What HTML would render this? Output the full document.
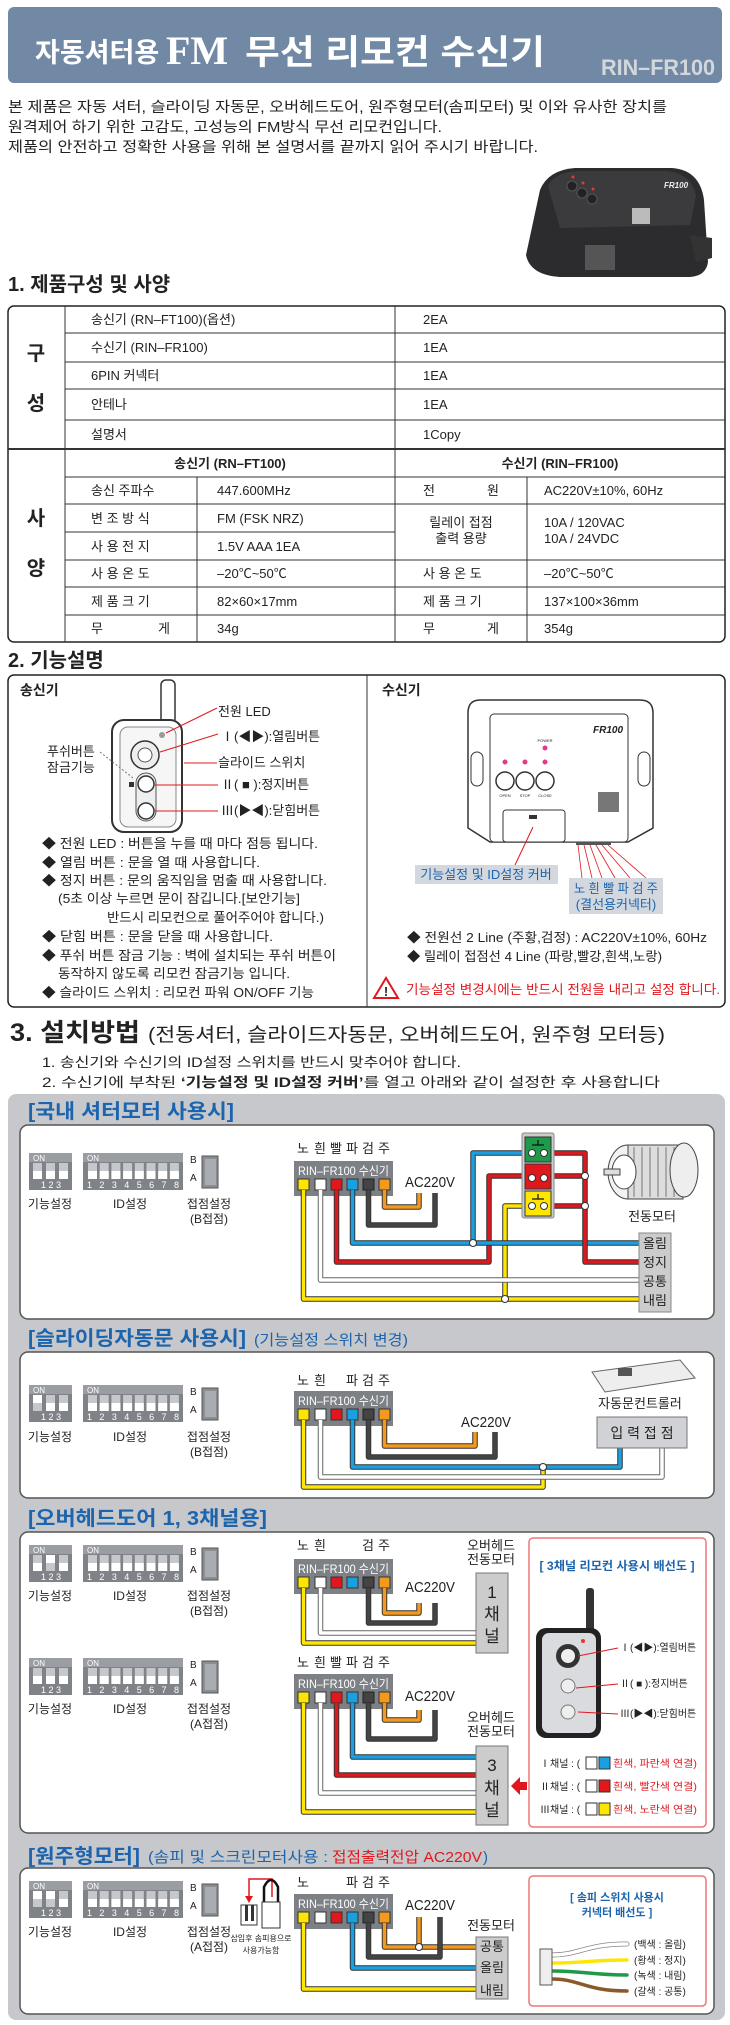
<!DOCTYPE html>
<html><head><meta charset="utf-8">
<style>
html,body{margin:0;padding:0;background:#fff}
svg{display:block}
text{font-family:"Liberation Sans","Noto Sans CJK KR",sans-serif;fill:#222}
.o{fill:none;stroke:#333;stroke-width:5.5;stroke-linejoin:round}
.ow{fill:none;stroke:#666;stroke-width:5.5;stroke-linejoin:round}
.w{fill:none;stroke-width:3.5;stroke-linejoin:round}
.t13{font-size:13px}
.b{font-weight:bold}
.blue{fill:#1c64ad}
.red{fill:#e0181e}
.c{text-anchor:middle}
.ln{stroke:#333;stroke-width:1}
.wt{fill:#fff}
</style></head><body>
<svg width="730" height="2025" viewBox="0 0 730 2025" xmlns="http://www.w3.org/2000/svg">
<defs>
<symbol id="dip3" viewBox="0 0 43 37" width="43" height="37">
<rect x="0" y="0" width="43" height="37" fill="#7f8388"/><rect x="0" y="0" width="43" height="9" fill="#9a9da1"/>
<rect x="4" y="10" width="9" height="16" fill="#c4c7cb"/><rect x="17" y="10" width="9" height="16" fill="#c4c7cb"/><rect x="30" y="10" width="9" height="16" fill="#c4c7cb"/>
</symbol>
<symbol id="dip8" viewBox="0 0 100 37" width="100" height="37">
<rect x="0" y="0" width="100" height="37" fill="#7f8388"/><rect x="0" y="0" width="100" height="9" fill="#9a9da1"/>
<g fill="#c4c7cb"><rect x="5" y="10" width="9" height="16"/><rect x="16.7" y="10" width="9" height="16"/><rect x="28.4" y="10" width="9" height="16"/><rect x="40.1" y="10" width="9" height="16"/><rect x="51.8" y="10" width="9" height="16"/><rect x="63.5" y="10" width="9" height="16"/><rect x="75.2" y="10" width="9" height="16"/><rect x="86.9" y="10" width="9" height="16"/></g>
<g fill="#fff"><rect x="5" y="18" width="9" height="8"/><rect x="16.7" y="18" width="9" height="8"/><rect x="28.4" y="18" width="9" height="8"/><rect x="40.1" y="18" width="9" height="8"/><rect x="51.8" y="18" width="9" height="8"/><rect x="63.5" y="18" width="9" height="8"/><rect x="75.2" y="18" width="9" height="8"/><rect x="86.9" y="18" width="9" height="8"/></g>
</symbol>
<symbol id="sw" viewBox="0 0 22 36" width="22" height="36">
<rect x="4" y="2" width="16" height="32" fill="#8a8d91" stroke="#555"/><rect x="7" y="5" width="11" height="26" fill="#a9acb0"/>
</symbol>
<symbol id="bar" viewBox="0 0 99 35" width="99" height="35">
<rect x="0" y="0" width="99" height="35" fill="#7d8085"/>
<rect x="4" y="18" width="11" height="11" fill="#ffe600" stroke="#333"/>
<rect x="21" y="18" width="11" height="11" fill="#fff" stroke="#333"/>
<rect x="37" y="18" width="11" height="11" fill="#e0181e" stroke="#333"/>
<rect x="53" y="18" width="11" height="11" fill="#1aa0e0" stroke="#333"/>
<rect x="69" y="18" width="11" height="11" fill="#444" stroke="#222"/>
<rect x="85" y="18" width="11" height="11" fill="#f39a1e" stroke="#333"/>
</symbol>
</defs>

<!-- header -->
<rect x="8" y="7" width="714" height="76" rx="6" fill="#7189a5"/>
<text x="35" y="62" font-size="27" class="wt b" style="fill:#fff">자동셔터용</text>
<text x="166" y="64" font-size="40" font-weight="bold" style="fill:#fff;font-family:'Liberation Serif',serif">FM</text>
<text x="245" y="64" font-size="34" font-weight="bold" style="fill:#fff" textLength="300" lengthAdjust="spacingAndGlyphs">무선 리모컨 수신기</text>
<text x="601" y="75" font-size="22" font-weight="bold" style="fill:#d3d7dc" textLength="114" lengthAdjust="spacingAndGlyphs">RIN–FR100</text>

<text x="8" y="112" font-size="14.5" textLength="659" lengthAdjust="spacingAndGlyphs">본 제품은 자동 셔터, 슬라이딩 자동문, 오버헤드도어, 원주형모터(솜피모터) 및 이와 유사한 장치를</text>
<text x="8" y="132" font-size="14.5" textLength="434" lengthAdjust="spacingAndGlyphs">원격제어 하기 위한 고감도, 고성능의 FM방식 무선 리모컨입니다.</text>
<text x="8" y="152" font-size="14.5" textLength="530" lengthAdjust="spacingAndGlyphs">제품의 안전하고 정확한 사용을 위해 본 설명서를 끝까지 읽어 주시기 바랍니다.</text>

<!-- product image -->
<path d="M540 190 Q548 170 575 168 L672 168 Q700 170 704 200 L708 262 Q706 276 690 277 L560 277 Q530 275 526 255 Z" fill="#2c2c2e"/>
<path d="M548 186 Q555 172 578 171 L668 171 Q692 174 696 196 L690 225 L560 228 Z" fill="#3b3b3e"/>
<circle cx="572" cy="186" r="5" fill="#222" stroke="#555"/><circle cx="582" cy="193" r="5" fill="#222" stroke="#555"/><circle cx="592" cy="199" r="5" fill="#222" stroke="#555"/>
<circle cx="573" cy="177" r="1.5" fill="#e33"/><circle cx="583" cy="183" r="1.5" fill="#e33"/><circle cx="593" cy="189" r="1.5" fill="#e33"/>
<text x="664" y="188" font-size="8" font-style="italic" font-weight="bold" style="fill:#eee">FR100</text>
<rect x="632" y="208" width="18" height="16" fill="#bbb"/>
<rect x="585" y="245" width="30" height="25" fill="#555"/>
<path d="M690 235 L712 238 L712 258 L696 262 Z" fill="#333"/>

<text x="8" y="291" font-size="20" class="b">1. 제품구성 및 사양</text>

<!-- table -->
<rect x="8" y="306" width="717" height="336" rx="6" fill="none" stroke="#222" stroke-width="1.5"/>
<g class="ln">
<line x1="65" y1="306" x2="65" y2="642"/>
<line x1="395" y1="306" x2="395" y2="642"/>
<line x1="65" y1="333" x2="725" y2="333"/><line x1="65" y1="362" x2="725" y2="362"/><line x1="65" y1="389" x2="725" y2="389"/><line x1="65" y1="420" x2="725" y2="420"/>
<line x1="8" y1="449" x2="725" y2="449" stroke-width="2"/>
<line x1="65" y1="477" x2="725" y2="477"/>
<line x1="197" y1="477" x2="197" y2="642"/><line x1="527" y1="477" x2="527" y2="642"/>
<line x1="65" y1="504" x2="725" y2="504"/><line x1="65" y1="532" x2="395" y2="532"/>
<line x1="65" y1="560" x2="725" y2="560"/><line x1="65" y1="587" x2="725" y2="587"/><line x1="65" y1="615" x2="725" y2="615"/>
</g>
<g font-size="13">
<text x="36" y="360" font-size="20" class="c b">구</text><text x="36" y="410" font-size="20" class="c b">성</text>
<text x="36" y="525" font-size="20" class="c b">사</text><text x="36" y="575" font-size="20" class="c b">양</text>
<text x="91" y="324">송신기 (RN–FT100)(옵션)</text><text x="423" y="324">2EA</text>
<text x="91" y="352">수신기 (RIN–FR100)</text><text x="423" y="352">1EA</text>
<text x="91" y="380">6PIN 커넥터</text><text x="423" y="380">1EA</text>
<text x="91" y="409">안테나</text><text x="423" y="409">1EA</text>
<text x="91" y="439">설명서</text><text x="423" y="439">1Copy</text>
<text x="230" y="468" class="c b">송신기 (RN–FT100)</text><text x="560" y="468" class="c b">수신기 (RIN–FR100)</text>
<text x="91" y="495">송신 주파수</text><text x="217" y="495">447.600MHz</text>
<text x="91" y="523">변 조 방 식</text><text x="217" y="523">FM (FSK NRZ)</text>
<text x="91" y="551">사 용 전 지</text><text x="217" y="551">1.5V AAA 1EA</text>
<text x="91" y="578">사 용 온 도</text><text x="217" y="578">–20℃~50℃</text>
<text x="91" y="606">제 품 크 기</text><text x="217" y="606">82×60×17mm</text>
<text x="91" y="633">무</text><text x="158" y="633">게</text><text x="217" y="633">34g</text>
<text x="423" y="495">전</text><text x="487" y="495">원</text><text x="544" y="495">AC220V±10%, 60Hz</text>
<text x="461" y="527" class="c">릴레이 접점</text><text x="461" y="543" class="c">출력 용량</text>
<text x="544" y="527">10A / 120VAC</text><text x="544" y="543">10A / 24VDC</text>
<text x="423" y="578">사 용 온 도</text><text x="544" y="578">–20℃~50℃</text>
<text x="423" y="606">제 품 크 기</text><text x="544" y="606">137×100×36mm</text>
<text x="423" y="633">무</text><text x="487" y="633">게</text><text x="544" y="633">354g</text>
</g>

<!-- section 2 -->
<text x="8" y="667" font-size="20" class="b">2. 기능설명</text>
<rect x="8" y="675" width="717" height="332" rx="6" fill="none" stroke="#222" stroke-width="1.5"/>
<line x1="367" y1="675" x2="367" y2="1007" stroke="#333"/>
<text x="20" y="695" font-size="14" class="b">송신기</text>
<text x="382" y="695" font-size="14" class="b">수신기</text>

<!-- transmitter -->
<rect x="161" y="680" width="14" height="44" rx="5" fill="#fff" stroke="#333" stroke-width="1.5"/>
<rect x="112" y="720" width="70" height="112" rx="12" fill="#fff" stroke="#333" stroke-width="2"/>
<rect x="120" y="727" width="56" height="100" rx="8" fill="#f6f6f6" stroke="#888"/>
<circle cx="162" cy="735" r="3" fill="#999"/>
<circle cx="145" cy="755" r="14" fill="#eee" stroke="#333" stroke-width="1.5"/><circle cx="145" cy="755" r="7" fill="#fff" stroke="#555"/>
<rect x="136" y="773" width="20" height="48" rx="10" fill="#eee" stroke="#555"/>
<circle cx="146" cy="784" r="8" fill="#fff" stroke="#333" stroke-width="1.5"/><circle cx="146" cy="811" r="8" fill="#fff" stroke="#333" stroke-width="1.5"/>
<rect x="129" y="782" width="5" height="5" fill="#333"/>
<g stroke="#e0181e" stroke-width="1" fill="none">
<line x1="217" y1="708" x2="166" y2="733"/><line x1="218" y1="734" x2="160" y2="752"/><line x1="217" y1="763" x2="184" y2="763"/><line x1="218" y1="785" x2="155" y2="785"/><line x1="218" y1="811" x2="155" y2="811"/>
</g>
<line x1="100" y1="752" x2="133" y2="778" stroke="#777" stroke-dasharray="2,2"/>
<g class="blue" font-size="13">
<text x="218" y="716">전원 LED</text>
<text x="221" y="741">Ⅰ(◀▶):열림버튼</text>
<text x="218" y="767">슬라이드 스위치</text>
<text x="221" y="789">Ⅱ( ■ ):정지버튼</text>
<text x="221" y="815">Ⅲ(▶◀):닫힘버튼</text>
<text x="47" y="756">푸쉬버튼</text><text x="47" y="772">잠금기능</text>
</g>
<g font-size="13">
<text x="42" y="848" textLength="276" lengthAdjust="spacingAndGlyphs">◆ 전원 LED  : 버튼을 누를 때 마다 점등 됩니다.</text>
<text x="42" y="867" textLength="218" lengthAdjust="spacingAndGlyphs">◆ 열림 버튼  : 문을 열 때 사용합니다.</text>
<text x="42" y="885" textLength="285" lengthAdjust="spacingAndGlyphs">◆ 정지 버튼  : 문의 움직임을 멈출 때 사용합니다.</text>
<text x="58" y="903" textLength="242" lengthAdjust="spacingAndGlyphs">(5초 이상 누르면 문이 잠깁니다.[보안기능]</text>
<text x="107" y="922" textLength="217" lengthAdjust="spacingAndGlyphs">반드시 리모컨으로 풀어주어야 합니다.)</text>
<text x="42" y="941" textLength="231" lengthAdjust="spacingAndGlyphs">◆ 닫힘 버튼 :  문을 닫을 때 사용합니다.</text>
<text x="42" y="960" textLength="294" lengthAdjust="spacingAndGlyphs">◆ 푸쉬 버튼 잠금 기능 : 벽에 설치되는 푸쉬 버튼이</text>
<text x="58" y="978" textLength="232" lengthAdjust="spacingAndGlyphs">동작하지 않도록 리모컨 잠금기능 입니다.</text>
<text x="42" y="997" textLength="272" lengthAdjust="spacingAndGlyphs">◆ 슬라이드 스위치 : 리모컨 파워 ON/OFF 기능</text>
</g>

<!-- receiver -->
<path d="M480 700 L640 700 Q653 700 653 713 L653 828 L628 842 L490 842 L468 828 L468 713 Q468 700 480 700 Z" fill="#fff" stroke="#333" stroke-width="1.5"/>
<rect x="490" y="714" width="138" height="128" rx="4" fill="#fff" stroke="#333"/>
<rect x="471" y="752" width="12" height="34" rx="6" fill="#fff" stroke="#333"/><rect x="638" y="752" width="12" height="34" rx="6" fill="#fff" stroke="#333"/>
<text x="593" y="733" font-size="10" font-style="italic" font-weight="bold">FR100</text>
<text x="545" y="742" font-size="4" class="c">POWER</text>
<g fill="#e23a8a"><circle cx="545" cy="748" r="2.5"/><circle cx="505" cy="762" r="2.5"/><circle cx="525" cy="762" r="2.5"/><circle cx="545" cy="762" r="2.5"/></g>
<g fill="#fff" stroke="#333" stroke-width="1.5"><circle cx="505" cy="781" r="9"/><circle cx="525" cy="781" r="9"/><circle cx="545" cy="781" r="9"/></g>
<text x="505" y="797" font-size="4" class="c">OPEN</text><text x="525" y="797" font-size="4" class="c">STOP</text><text x="545" y="797" font-size="4" class="c">CLOSE</text>
<rect x="598" y="792" width="21" height="20" fill="#777"/>
<rect x="503" y="810" width="62" height="32" rx="3" fill="#fff" stroke="#333"/>
<rect x="529" y="815" width="8" height="4" fill="#333"/>
<rect x="576" y="842" width="35" height="3" fill="#555"/>
<line x1="533" y1="827" x2="515" y2="865" stroke="#e0181e"/>
<g stroke="#e0181e" stroke-width=".8"><line x1="578" y1="845" x2="582" y2="878"/><line x1="584" y1="845" x2="592" y2="878"/><line x1="590" y1="845" x2="602" y2="878"/><line x1="596" y1="845" x2="615" y2="878"/><line x1="602" y1="845" x2="630" y2="878"/><line x1="608" y1="845" x2="646" y2="878"/></g>
<rect x="415" y="865" width="143" height="19" fill="#d3d8de"/>
<text x="486" y="879" font-size="13" class="blue c">기능설정 및 ID설정 커버</text>
<rect x="569" y="878" width="94" height="36" fill="#d3d8de"/>
<text x="616" y="893" font-size="13" class="blue c" textLength="84" lengthAdjust="spacingAndGlyphs">노 흰 빨 파 검 주</text>
<text x="616" y="909" font-size="13" class="blue c">(결선용커넥터)</text>
<text x="407" y="942" font-size="13" textLength="300" lengthAdjust="spacingAndGlyphs">◆ 전원선 2 Line (주황,검정) : AC220V±10%, 60Hz</text>
<text x="407" y="961" font-size="13" textLength="255" lengthAdjust="spacingAndGlyphs">◆ 릴레이 접점선 4 Line (파랑,빨강,흰색,노랑)</text>
<path d="M374 998 L386 978 L398 998 Z" fill="#fff" stroke="#e0181e" stroke-width="2"/>
<text x="386" y="996" font-size="13" class="c b">!</text>
<text x="406" y="994" font-size="13" class="red" textLength="314" lengthAdjust="spacingAndGlyphs">기능설정 변경시에는 반드시 전원을 내리고 설정 합니다.</text>

<!-- section 3 -->
<text x="10" y="1041" font-size="25" class="b" textLength="130" lengthAdjust="spacingAndGlyphs">3. 설치방법</text>
<text x="148" y="1041" font-size="19" textLength="517" lengthAdjust="spacingAndGlyphs">(전동셔터, 슬라이드자동문, 오버헤드도어, 원주형 모터등)</text>
<text x="42" y="1067" font-size="13.5" textLength="419" lengthAdjust="spacingAndGlyphs">1. 송신기와 수신기의 ID설정 스위치를 반드시 맞추어야 합니다.</text>
<text x="42" y="1087" font-size="13.5" textLength="618" lengthAdjust="spacingAndGlyphs">2. 수신기에 부착된  <tspan font-weight="bold">‘기능설정 및 ID설정 커버’</tspan>를 열고 아래와 같이 설정한 후 사용합니다</text>

<rect x="8" y="1094" width="717" height="926" rx="8" fill="#c6c8cb"/>

<!-- ===== box1 ===== -->
<text x="28" y="1118" font-size="20" class="blue b" textLength="206" lengthAdjust="spacingAndGlyphs">[국내 셔터모터 사용시]</text>
<rect x="20" y="1125" width="694" height="194" rx="8" fill="#fff" stroke="#555" stroke-width="1.5"/>
<use href="#dip3" x="29" y="1153"/><g fill="#fff"><rect x="33" y="1171" width="9" height="8"/><rect x="46" y="1171" width="9" height="8"/><rect x="59" y="1171" width="9" height="8"/></g>
<use href="#dip8" x="83" y="1153"/>
<use href="#sw" x="198" y="1154"/>
<g font-size="12">
<text x="33" y="1161" font-size="8" class="wt" style="fill:#fff">ON</text><text x="87" y="1161" font-size="8" style="fill:#fff">ON</text>
<text x="51" y="1188" font-size="9" class="c" style="fill:#fff">1 2 3</text><text x="133" y="1188" font-size="9" class="c" style="fill:#fff" textLength="92">1 2 3 4 5 6 7 8</text>
<text x="190" y="1163" font-size="10">B</text><text x="190" y="1181" font-size="10">A</text>
<text x="50" y="1208" class="c">기능설정</text><text x="130" y="1208" class="c">ID설정</text><text x="209" y="1208" class="c">접점설정</text><text x="209" y="1223" class="c">(B접점)</text>
</g>
<g font-size="13" class="c"><text x="303" y="1153">노</text><text x="320" y="1153">흰</text><text x="336" y="1153">빨</text><text x="352" y="1153">파</text><text x="368" y="1153">검</text><text x="384" y="1153">주</text></g>
<use href="#bar" x="294" y="1161"/>
<text x="298" y="1175" font-size="12" style="fill:#fff" textLength="91" lengthAdjust="spacingAndGlyphs">RIN–FR100 수신기</text>
<text x="405" y="1187" font-size="15" textLength="50" lengthAdjust="spacingAndGlyphs">AC220V</text>
<path class="o" d="M384.5 1190 V1207 H419 V1193"/><path class="w" stroke="#f39a1e" d="M384.5 1190 V1207 H419 V1193"/>
<path class="o" d="M368.5 1190 V1225 H435 V1193"/><path class="w" stroke="#444" d="M368.5 1190 V1225 H435 V1193"/>
<path class="o" d="M303.5 1190 V1299 H639 M505 1299 V1206 H526"/><path class="w" stroke="#ffe600" d="M303.5 1190 V1299 H639 M505 1299 V1206 H526"/>
<path class="ow" d="M320.5 1190 V1280 H639"/><path class="w" stroke="#fff" d="M320.5 1190 V1280 H639"/>
<path class="o" d="M336.5 1190 V1262 H489 V1176 H526"/><path class="w" stroke="#e0181e" d="M336.5 1190 V1262 H489 V1176 H526"/>
<path class="o" d="M352.5 1190 V1243 H639 M473 1243 V1153 H526"/><path class="w" stroke="#1aa0e0" d="M352.5 1190 V1243 H639 M473 1243 V1153 H526"/>
<path class="o" d="M548 1153 H585 V1262 H639 M548 1176 H585 M548 1206 H585"/><path class="w" stroke="#e0181e" d="M548 1153 H585 V1262 H639 M548 1176 H585 M548 1206 H585"/>
<rect x="522" y="1133" width="32" height="85" rx="2" fill="#ccc" stroke="#888"/>
<rect x="525" y="1137" width="26" height="25" fill="#1f9a4a" stroke="#333"/><rect x="525" y="1164" width="26" height="25" fill="#e0181e" stroke="#333"/><rect x="525" y="1191" width="26" height="25" fill="#ffe600" stroke="#333"/>
<g fill="#fff" stroke="#333"><circle cx="532" cy="1153" r="3.5"/><circle cx="544" cy="1153" r="3.5"/><circle cx="532" cy="1178" r="3.5"/><circle cx="544" cy="1178" r="3.5"/><circle cx="532" cy="1206" r="3.5"/><circle cx="544" cy="1206" r="3.5"/>
<circle cx="473" cy="1243" r="3.5"/><circle cx="505" cy="1299" r="3.5"/><circle cx="585" cy="1176" r="3.5"/><circle cx="585" cy="1206" r="3.5"/></g>
<g stroke="#111" stroke-width="1.2"><path d="M532 1145 H544 M538 1140 V1145 M532 1199 H544 M538 1194 V1199"/></g>
<!-- motor -->
<ellipse cx="628" cy="1172" rx="20" ry="27" fill="#f2f2f2" stroke="#444"/>
<rect x="628" y="1145" width="55" height="54" fill="#ddd" stroke="#444"/>
<g stroke="#777"><line x1="634" y1="1147" x2="634" y2="1197"/><line x1="642" y1="1147" x2="642" y2="1197"/><line x1="650" y1="1147" x2="650" y2="1197"/><line x1="658" y1="1147" x2="658" y2="1197"/><line x1="666" y1="1147" x2="666" y2="1197"/><line x1="674" y1="1147" x2="674" y2="1197"/></g>
<ellipse cx="684" cy="1170" rx="14" ry="27" fill="#eee" stroke="#444"/>
<ellipse cx="624" cy="1172" rx="12" ry="17" fill="#fff" stroke="#444"/><rect x="604" y="1169" width="16" height="6" fill="#ddd" stroke="#444"/>
<text x="652" y="1221" font-size="13" class="c">전동모터</text>
<rect x="639" y="1233" width="32" height="79" fill="#ccc" stroke="#888"/>
<g font-size="13" class="c"><text x="655" y="1248">올림</text><text x="655" y="1267">정지</text><text x="655" y="1286">공통</text><text x="655" y="1305">내림</text></g>

<!-- ===== box2 ===== -->
<text x="28" y="1345" font-size="20" class="blue b" textLength="218" lengthAdjust="spacingAndGlyphs">[슬라이딩자동문 사용시]</text>
<text x="254" y="1345" font-size="15" class="blue" textLength="154" lengthAdjust="spacingAndGlyphs">(기능설정 스위치 변경)</text>
<rect x="20" y="1352" width="694" height="146" rx="8" fill="#fff" stroke="#555" stroke-width="1.5"/>
<use href="#dip3" x="29" y="1385"/><g fill="#fff"><rect x="33" y="1395" width="9" height="8"/><rect x="46" y="1403" width="9" height="8"/><rect x="59" y="1403" width="9" height="8"/></g>
<use href="#dip8" x="83" y="1385"/>
<use href="#sw" x="198" y="1386"/>
<g font-size="12">
<text x="33" y="1393" font-size="8" style="fill:#fff">ON</text><text x="87" y="1393" font-size="8" style="fill:#fff">ON</text>
<text x="51" y="1420" font-size="9" class="c" style="fill:#fff">1 2 3</text><text x="133" y="1420" font-size="9" class="c" style="fill:#fff" textLength="92">1 2 3 4 5 6 7 8</text>
<text x="190" y="1395" font-size="10">B</text><text x="190" y="1413" font-size="10">A</text>
<text x="50" y="1441" class="c">기능설정</text><text x="130" y="1441" class="c">ID설정</text><text x="209" y="1441" class="c">접점설정</text><text x="209" y="1456" class="c">(B접점)</text>
</g>
<g font-size="13" class="c"><text x="303" y="1385">노</text><text x="320" y="1385">흰</text><text x="352" y="1385">파</text><text x="368" y="1385">검</text><text x="384" y="1385">주</text></g>
<use href="#bar" x="294" y="1391"/>
<text x="298" y="1405" font-size="12" style="fill:#fff" textLength="91" lengthAdjust="spacingAndGlyphs">RIN–FR100 수신기</text>
<text x="461" y="1427" font-size="15" textLength="50" lengthAdjust="spacingAndGlyphs">AC220V</text>
<path class="o" d="M384.5 1420 V1446 H475 V1432"/><path class="w" stroke="#f39a1e" d="M384.5 1420 V1446 H475 V1432"/>
<path class="o" d="M368.5 1420 V1457 H495 V1432"/><path class="w" stroke="#444" d="M368.5 1420 V1457 H495 V1432"/>
<path class="o" d="M303.5 1420 V1487 H543 V1467"/><path class="w" stroke="#ffe600" d="M303.5 1420 V1487 H543 V1467"/>
<path class="ow" d="M320.5 1420 V1477 H662 V1448"/><path class="w" stroke="#fff" d="M320.5 1420 V1477 H662 V1448"/>
<path class="o" d="M352.5 1420 V1467 H620 V1448"/><path class="w" stroke="#1aa0e0" d="M352.5 1420 V1467 H620 V1448"/>
<circle cx="543" cy="1467" r="3.5" fill="#fff" stroke="#333"/>
<path d="M592 1372 L680 1360 L695 1378 L605 1392 Z" fill="#eee" stroke="#666"/><rect x="618" y="1368" width="14" height="8" fill="#555"/>
<text x="640" y="1408" font-size="13" class="c">자동문컨트롤러</text>
<rect x="597" y="1417" width="90" height="31" fill="#d0d2d5" stroke="#777"/>
<text x="642" y="1438" font-size="14" class="c">입 력 접 점</text>

<!-- ===== box3 ===== -->
<text x="28" y="1525" font-size="20" class="blue b" textLength="239" lengthAdjust="spacingAndGlyphs">[오버헤드도어 1, 3채널용]</text>
<rect x="20" y="1532" width="694" height="301" rx="8" fill="#fff" stroke="#555" stroke-width="1.5"/>
<use href="#dip3" x="29" y="1545"/><g fill="#fff"><rect x="33" y="1563" width="9" height="8"/><rect x="46" y="1555" width="9" height="8"/><rect x="59" y="1563" width="9" height="8"/></g>
<use href="#dip8" x="83" y="1545"/><use href="#sw" x="198" y="1546"/>
<use href="#dip3" x="29" y="1658"/><g fill="#fff"><rect x="33" y="1676" width="9" height="8"/><rect x="46" y="1676" width="9" height="8"/><rect x="59" y="1676" width="9" height="8"/></g>
<use href="#dip8" x="83" y="1658"/><use href="#sw" x="198" y="1659"/>
<g font-size="12">
<text x="33" y="1553" font-size="8" style="fill:#fff">ON</text><text x="87" y="1553" font-size="8" style="fill:#fff">ON</text>
<text x="51" y="1580" font-size="9" class="c" style="fill:#fff">1 2 3</text><text x="133" y="1580" font-size="9" class="c" style="fill:#fff" textLength="92">1 2 3 4 5 6 7 8</text>
<text x="190" y="1555" font-size="10">B</text><text x="190" y="1573" font-size="10">A</text>
<text x="50" y="1600" class="c">기능설정</text><text x="130" y="1600" class="c">ID설정</text><text x="209" y="1600" class="c">접점설정</text><text x="209" y="1615" class="c">(B접점)</text>
<text x="33" y="1666" font-size="8" style="fill:#fff">ON</text><text x="87" y="1666" font-size="8" style="fill:#fff">ON</text>
<text x="51" y="1693" font-size="9" class="c" style="fill:#fff">1 2 3</text><text x="133" y="1693" font-size="9" class="c" style="fill:#fff" textLength="92">1 2 3 4 5 6 7 8</text>
<text x="190" y="1668" font-size="10">B</text><text x="190" y="1686" font-size="10">A</text>
<text x="50" y="1713" class="c">기능설정</text><text x="130" y="1713" class="c">ID설정</text><text x="209" y="1713" class="c">접점설정</text><text x="209" y="1728" class="c">(A접점)</text>
</g>
<g font-size="13" class="c"><text x="303" y="1550">노</text><text x="320" y="1550">흰</text><text x="368" y="1550">검</text><text x="384" y="1550">주</text>
<text x="303" y="1667">노</text><text x="320" y="1667">흰</text><text x="336" y="1667">빨</text><text x="352" y="1667">파</text><text x="368" y="1667">검</text><text x="384" y="1667">주</text>
<text x="491" y="1550">오버헤드</text><text x="491" y="1564">전동모터</text>
<text x="491" y="1722">오버헤드</text><text x="491" y="1736">전동모터</text></g>
<use href="#bar" x="294" y="1559"/>
<text x="298" y="1573" font-size="12" style="fill:#fff" textLength="91" lengthAdjust="spacingAndGlyphs">RIN–FR100 수신기</text>
<text x="405" y="1592" font-size="15" textLength="50" lengthAdjust="spacingAndGlyphs">AC220V</text>
<path class="o" d="M384.5 1588 V1613 H419 V1603"/><path class="w" stroke="#f39a1e" d="M384.5 1588 V1613 H419 V1603"/>
<path class="o" d="M368.5 1588 V1623 H435 V1603"/><path class="w" stroke="#444" d="M368.5 1588 V1623 H435 V1603"/>
<path class="o" d="M303.5 1588 V1643 H476"/><path class="w" stroke="#ffe600" d="M303.5 1588 V1643 H476"/>
<path class="ow" d="M320.5 1588 V1633 H476"/><path class="w" stroke="#fff" d="M320.5 1588 V1633 H476"/>
<rect x="476" y="1573" width="32" height="80" fill="#ccc" stroke="#777"/>
<g font-size="17" class="c"><text x="492" y="1598">1</text><text x="492" y="1620">채</text><text x="492" y="1642">널</text></g>
<use href="#bar" x="294" y="1674"/>
<text x="298" y="1688" font-size="12" style="fill:#fff" textLength="91" lengthAdjust="spacingAndGlyphs">RIN–FR100 수신기</text>
<text x="405" y="1701" font-size="15" textLength="50" lengthAdjust="spacingAndGlyphs">AC220V</text>
<path class="o" d="M384.5 1703 V1720 H419 V1710"/><path class="w" stroke="#f39a1e" d="M384.5 1703 V1720 H419 V1710"/>
<path class="o" d="M368.5 1703 V1739 H435 V1710"/><path class="w" stroke="#444" d="M368.5 1703 V1739 H435 V1710"/>
<path class="o" d="M303.5 1703 V1812 H476"/><path class="w" stroke="#ffe600" d="M303.5 1703 V1812 H476"/>
<path class="ow" d="M320.5 1703 V1793 H476"/><path class="w" stroke="#fff" d="M320.5 1703 V1793 H476"/>
<path class="o" d="M336.5 1703 V1775 H476"/><path class="w" stroke="#e0181e" d="M336.5 1703 V1775 H476"/>
<path class="o" d="M352.5 1703 V1757 H476"/><path class="w" stroke="#1aa0e0" d="M352.5 1703 V1757 H476"/>
<rect x="476" y="1746" width="32" height="79" fill="#ccc" stroke="#777"/>
<g font-size="17" class="c"><text x="492" y="1771">3</text><text x="492" y="1794">채</text><text x="492" y="1816">널</text></g>
<path d="M511 1786 L520 1777 L520 1782 L527 1782 L527 1790 L520 1790 L520 1795 Z" fill="#e0181e"/>
<!-- 3ch panel -->
<rect x="529" y="1538" width="177" height="289" rx="4" fill="#fff" stroke="#e77" stroke-width="1.5"/>
<text x="617" y="1570" font-size="12" class="blue b c" textLength="155" lengthAdjust="spacingAndGlyphs">[ 3채널 리모컨 사용시 배선도 ]</text>
<rect x="586" y="1588" width="8" height="45" rx="3" fill="#333"/>
<rect x="536" y="1628" width="65" height="110" rx="10" fill="#222"/>
<rect x="542" y="1633" width="54" height="100" rx="7" fill="#d9dbde"/>
<circle cx="583" cy="1641" r="2" fill="#e33"/>
<circle cx="568" cy="1656" r="12" fill="#333"/><circle cx="568" cy="1656" r="7" fill="#eee"/>
<circle cx="568" cy="1686" r="7" fill="#eee" stroke="#777"/><circle cx="568" cy="1712" r="7" fill="#eee" stroke="#777"/>
<g stroke="#e0181e"><line x1="618" y1="1648" x2="578" y2="1656"/><line x1="618" y1="1684" x2="576" y2="1688"/><line x1="618" y1="1714" x2="578" y2="1712"/></g>
<g font-size="10"><text x="620" y="1651">Ⅰ(◀▶):열림버튼</text><text x="620" y="1687">Ⅱ( ■ ):정지버튼</text><text x="620" y="1717">Ⅲ(▶◀):닫힘버튼</text>
<text x="540" y="1767">Ⅰ채널 : (</text><text x="540" y="1790">Ⅱ채널 : (</text><text x="540" y="1813">Ⅲ채널 : (</text>
<text x="613" y="1767" class="red" textLength="84" lengthAdjust="spacingAndGlyphs">흰색, 파란색 연결)</text>
<text x="613" y="1790" class="red" textLength="84" lengthAdjust="spacingAndGlyphs">흰색, 빨간색 연결)</text>
<text x="613" y="1813" class="red" textLength="84" lengthAdjust="spacingAndGlyphs">흰색, 노란색 연결)</text></g>
<g stroke="#333"><rect x="586" y="1757" width="11" height="12" fill="#fff"/><rect x="599" y="1757" width="11" height="12" fill="#1aa0e0"/>
<rect x="586" y="1780" width="11" height="12" fill="#fff"/><rect x="599" y="1780" width="11" height="12" fill="#e0181e"/>
<rect x="586" y="1803" width="11" height="12" fill="#fff"/><rect x="599" y="1803" width="11" height="12" fill="#ffe600"/></g>

<!-- ===== box4 ===== -->
<text x="28" y="1863" font-size="20" class="blue b" textLength="112" lengthAdjust="spacingAndGlyphs">[원주형모터]</text>
<text x="148" y="1862" font-size="15" class="blue" textLength="180" lengthAdjust="spacingAndGlyphs">(솜피 및 스크린모터사용 :</text>
<text x="332" y="1862" font-size="15" class="red" textLength="150" lengthAdjust="spacingAndGlyphs">접점출력전압 AC220V</text>
<text x="483" y="1862" font-size="15" class="blue">)</text>
<rect x="20" y="1868" width="694" height="146" rx="8" fill="#fff" stroke="#555" stroke-width="1.5"/>
<use href="#dip3" x="29" y="1881"/><g fill="#fff"><rect x="33" y="1891" width="9" height="8"/><rect x="46" y="1891" width="9" height="8"/><rect x="59" y="1899" width="9" height="8"/></g>
<use href="#dip8" x="83" y="1881"/><use href="#sw" x="198" y="1882"/>
<g font-size="12">
<text x="33" y="1889" font-size="8" style="fill:#fff">ON</text><text x="87" y="1889" font-size="8" style="fill:#fff">ON</text>
<text x="51" y="1916" font-size="9" class="c" style="fill:#fff">1 2 3</text><text x="133" y="1916" font-size="9" class="c" style="fill:#fff" textLength="92">1 2 3 4 5 6 7 8</text>
<text x="190" y="1891" font-size="10">B</text><text x="190" y="1909" font-size="10">A</text>
<text x="50" y="1936" class="c">기능설정</text><text x="130" y="1936" class="c">ID설정</text><text x="209" y="1936" class="c">접점설정</text><text x="209" y="1951" class="c">(A접점)</text>
</g>
<path d="M272 1897 V1879 H249 V1898" fill="none" stroke="#e0181e" stroke-width="1.5"/><path d="M245 1896 L249 1903 L253 1896 Z" fill="#e0181e"/>
<rect x="241" y="1905" width="16" height="20" fill="#fff" stroke="#333"/><rect x="245" y="1905" width="3" height="16" fill="#333"/><rect x="251" y="1905" width="3" height="16" fill="#333"/>
<path d="M264 1902 V1887 Q271 1873 278 1887 V1902" fill="none" stroke="#111" stroke-width="2.5"/>
<rect x="262" y="1902" width="18" height="26" fill="#fff" stroke="#333"/>
<text x="261" y="1941" font-size="8" class="c">삽입후 솜피용으로</text><text x="261" y="1953" font-size="8" class="c">사용가능함</text>
<g font-size="13" class="c"><text x="303" y="1887">노</text><text x="352" y="1887">파</text><text x="368" y="1887">검</text><text x="384" y="1887">주</text><text x="491" y="1930">전동모터</text></g>
<use href="#bar" x="294" y="1894"/>
<text x="298" y="1908" font-size="12" style="fill:#fff" textLength="91" lengthAdjust="spacingAndGlyphs">RIN–FR100 수신기</text>
<text x="405" y="1910" font-size="15" textLength="50" lengthAdjust="spacingAndGlyphs">AC220V</text>
<path class="o" d="M384.5 1923 V1947 H476 M419 1917 V1947"/><path class="w" stroke="#f39a1e" d="M384.5 1923 V1947 H476 M419 1917 V1947"/>
<path class="o" d="M368.5 1923 V1957 H440 V1917"/><path class="w" stroke="#444" d="M368.5 1923 V1957 H440 V1917"/>
<path class="o" d="M352.5 1923 V1968 H476"/><path class="w" stroke="#1aa0e0" d="M352.5 1923 V1968 H476"/>
<path class="o" d="M303.5 1923 V1989 H476"/><path class="w" stroke="#ffe600" d="M303.5 1923 V1989 H476"/>
<circle cx="419" cy="1947" r="3.5" fill="#fff" stroke="#333"/>
<rect x="476" y="1937" width="32" height="62" fill="#ccc" stroke="#777"/>
<g font-size="13" class="c"><text x="492" y="1951">공통</text><text x="492" y="1972">올림</text><text x="492" y="1995">내림</text></g>
<rect x="529" y="1876" width="177" height="130" rx="4" fill="#fff" stroke="#e77" stroke-width="1.5"/>
<text x="617" y="1901" font-size="11" class="blue b c">[ 솜피 스위치 사용시</text>
<text x="617" y="1916" font-size="11" class="blue b c">커넥터 배선도 ]</text>
<g fill="none" stroke-width="3.5" stroke-linecap="round">
<path d="M552 1955 C580 1955 585 1944 627 1944" stroke="#888" stroke-width="5"/><path d="M552 1955 C580 1955 585 1944 627 1944" stroke="#fff"/>
<path d="M552 1963 C585 1963 590 1960 627 1960" stroke="#ffe600"/>
<path d="M552 1971 C585 1971 590 1975 627 1975" stroke="#1f9a4a"/>
<path d="M552 1979 C580 1979 585 1991 627 1991" stroke="#8a5a2b"/>
</g>
<rect x="540" y="1949" width="12" height="36" fill="#eee" stroke="#555"/>
<g font-size="10"><text x="634" y="1948">(백색 : 올림)</text><text x="634" y="1964">(황색 : 정지)</text><text x="634" y="1979">(녹색 : 내림)</text><text x="634" y="1995">(갈색 : 공통)</text></g>
</svg>
</body></html>
